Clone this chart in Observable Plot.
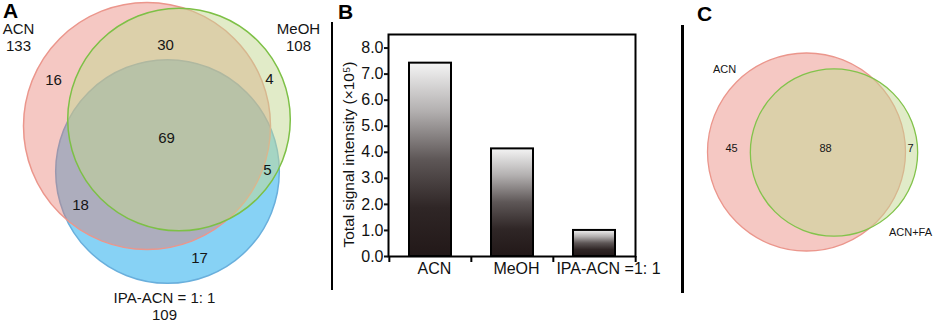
<!DOCTYPE html>
<html><head><meta charset="utf-8">
<script src="https://cdn.jsdelivr.net/npm/d3@7"></script>
<script src="https://cdn.jsdelivr.net/npm/@observablehq/plot@0.6"></script>
<style>
body{margin:0;background:#fff;}
#fig{position:relative;width:934px;height:322px;overflow:hidden;font-family:"Liberation Sans",Arial,sans-serif;background:#fff;}
.panel{position:absolute;top:0;}
.letter{position:absolute;font-weight:bold;font-size:21px;line-height:17px;color:#000;}
.sep{position:absolute;background:#000;}
</style></head><body><div id="fig"></div><script>
// ---------- data ----------
const setNamesA = ["ACN", "MeOH", "IPA-ACN = 1: 1"];
const setSizesA = [133, 108, 109];
const regionNamesA = ["ACN only", "MeOH only", "IPA-ACN only", "ACN & MeOH", "ACN & IPA-ACN", "MeOH & IPA-ACN", "all three"];
const regionCountsA = [16, 4, 17, 30, 18, 5, 69];

const solvents = ["ACN", "MeOH", "IPA-ACN =1: 1"];
const intensities = [7.42, 4.13, 1.0];
const yTicks = [0, 1, 2, 3, 4, 5, 6, 7, 8];
const yLabel = "Total signal intensity (×10⁵)";

const setNamesC = ["ACN", "ACN+FA"];
const setSizesC = [133, 95];
const regionNamesC = ["ACN only", "ACN & ACN+FA", "ACN+FA only"];
const regionCountsC = [45, 88, 7];

// ---------- layout (panel-local pixel positions, not data) ----------
const font = "Liberation Sans, Arial, sans-serif";
const layoutA = {
  circles: [ // drawn in this order: IPA, ACN, MeOH
    {set: 2, cx: 167, cy: 171, fill: "rgb(135,210,245)", op: 1, stroke: "rgb(105,175,220)"},
    {set: 0, cx: 146.5, cy: 125.5, fill: "rgb(230,118,105)", op: 0.4, stroke: "rgb(235,150,140)"},
    {set: 1, cx: 178.5, cy: 119, fill: "rgb(195,215,145)", op: 0.5, stroke: "rgb(125,192,70)"}
  ],
  regions: [[53, 80], [269, 79], [199, 258], [165, 45], [80, 205], [267, 170], [166, 138]],
  labels: [[18, 36.5], [298, 36.5], [164, 305.5]]
};
const layoutC = {
  circles: [
    {set: 0, cx: 123, cy: 151.5, fill: "rgb(230,118,105)", op: 0.4, stroke: "rgb(235,150,140)"},
    {set: 1, cx: 150.5, cy: 152, fill: "rgb(195,215,145)", op: 0.5, stroke: "rgb(130,195,75)"}
  ],
  regions: [[48, 148], [142, 148], [227, 148]],
  labels: [[41, 68], [227, 231]]
};

const fig = document.getElementById("fig");
function place(el, left) { el.classList.add("panel"); el.style.left = left + "px"; fig.appendChild(el); }

function venn(names, sizes, regionNames, counts, layout, opts) {
  const W = opts.width, H = 322;
  const marks = [];
  for (const c of layout.circles) {
    marks.push(Plot.dot([{name: names[c.set], size: sizes[c.set], x: c.cx, y: c.cy}], {
      x: "x", y: "y", r: "size", fill: c.fill, fillOpacity: c.op,
      stroke: c.stroke, strokeWidth: opts.sw, sort: null
    }));
  }
  const regs = regionNames.map((n, i) => ({name: n, count: counts[i], x: layout.regions[i][0], y: layout.regions[i][1]}));
  marks.push(Plot.text(regs, {x: "x", y: "y", text: d => String(d.count), fontSize: opts.fs, fill: "#151515", fontFamily: font}));
  const labs = names.map((n, i) => ({text: opts.showSize ? n + "\n" + sizes[i] : n, x: layout.labels[i][0], y: layout.labels[i][1]}));
  marks.push(Plot.text(labs, {x: "x", y: "y", text: "text", fontSize: opts.fs, lineHeight: 1.15, fill: "#151515", fontFamily: font}));
  return Plot.plot({
    width: W, height: H, margin: 0,
    style: {background: "transparent", overflow: "visible", fontFamily: font},
    x: {domain: [0, W], range: [0, W], axis: null},
    y: {domain: [0, H], range: [0, H], axis: null},
    r: {domain: [0, opts.maxSize], range: [0, opts.maxR]},
    marks
  });
}

// Panel A
const plotA = venn(setNamesA, setSizesA, regionNamesA, regionCountsA, layoutA,
  {width: 330, fs: 15, sw: 1.5, showSize: true, maxSize: 133, maxR: 123.5});
place(plotA, 0);

// Panel B
const bars = solvents.map((s, i) => ({solvent: s, value: intensities[i]}));
const mL = 88, mR = 45, mT = 34, mB = 66, WB = 380;
const bw = (WB - mL - mR) / solvents.length;
const plotB = Plot.plot({
  width: WB, height: 322,
  marginLeft: mL, marginRight: mR, marginTop: mT, marginBottom: mB,
  style: {background: "transparent", overflow: "visible", fontFamily: font, fontSize: "16px", color: "#111"},
  x: {domain: solvents, padding: 0},
  y: {domain: [0, 8.52]},
  marks: [
    Plot.barY(bars, {x: "solvent", y: "value", fill: "url(#barGrad)", stroke: "#000", strokeWidth: 2, insetLeft: 20, insetRight: 20}),
    Plot.frame({stroke: "#000", strokeWidth: 2}),
    Plot.axisY({ticks: yTicks, tickFormat: d => d.toFixed(1), tickSize: 4, tickPadding: 1, fontSize: 16, label: null, strokeWidth: 2}),
    Plot.axisX(solvents.slice(0, 2), {tickSize: 0, tickPadding: 6, fontSize: 16, dx: 4, label: null}),
    Plot.axisX(solvents.slice(2), {tickSize: 0, tickPadding: 6, fontSize: 16, dx: 14, label: null}),
    Plot.ruleX(solvents, {x: d => d, dx: -bw / 2, insetTop: 322 - mT - mB, insetBottom: -6, stroke: "#000", strokeWidth: 2}),
    Plot.ruleX(solvents.slice(-1), {x: d => d, dx: bw / 2, insetTop: 322 - mT - mB, insetBottom: -6, stroke: "#000", strokeWidth: 2}),
    Plot.text([yLabel], {frameAnchor: "left", textAnchor: "middle", lineAnchor: "middle", text: d => d, rotate: -90, dx: -39.5, dy: 9, fontSize: 15.5})
  ]
});
{
  const ns = "http://www.w3.org/2000/svg";
  const defs = document.createElementNS(ns, "defs");
  const lg = document.createElementNS(ns, "linearGradient");
  lg.setAttribute("id", "barGrad");
  lg.setAttribute("x1", "0"); lg.setAttribute("y1", "0"); lg.setAttribute("x2", "0"); lg.setAttribute("y2", "1");
  [[0, "#f4f4f4"], [0.25, "#b3b0b0"], [0.5, "#5e5757"], [0.75, "#2f2626"], [1, "#221818"]].forEach(([o, c]) => {
    const s = document.createElementNS(ns, "stop");
    s.setAttribute("offset", o); s.setAttribute("stop-color", c); lg.appendChild(s);
  });
  defs.appendChild(lg);
  plotB.insertBefore(defs, plotB.firstChild);
}
place(plotB, 300);

// Panel C
const plotC = venn(setNamesC, setSizesC, regionNamesC, regionCountsC, layoutC,
  {width: 251, fs: 11, sw: 1.3, showSize: false, maxSize: 133, maxR: 99});
place(plotC, 683);

// separators and panel letters
for (const [l, t, w, h] of [[331, 22, 2, 268], [681, 25, 2.5, 268]]) {
  const d = document.createElement("div"); d.className = "sep";
  Object.assign(d.style, {left: l + "px", top: t + "px", width: w + "px", height: h + "px"});
  fig.appendChild(d);
}
for (const [txt, l, t] of [["A", 3, 2], ["B", 338, 3], ["C", 697, 5]]) {
  const d = document.createElement("div"); d.className = "letter"; d.textContent = txt;
  Object.assign(d.style, {left: l + "px", top: t + "px"});
  fig.appendChild(d);
}
</script></body></html>
